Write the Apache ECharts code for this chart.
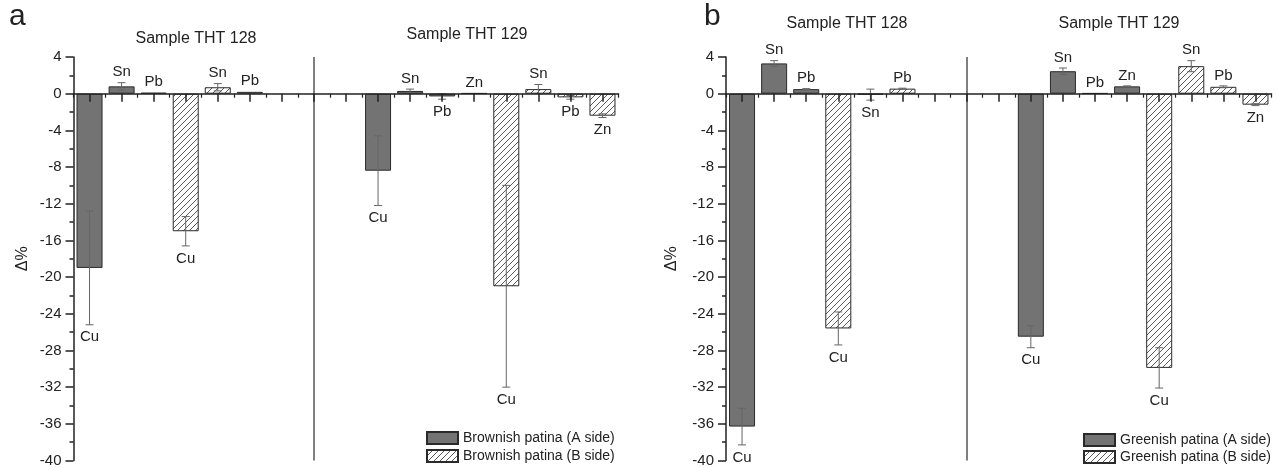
<!DOCTYPE html>
<html>
<head>
<meta charset="utf-8">
<script src="https://cdn.jsdelivr.net/npm/echarts@6/dist/echarts.min.js"></script>
<style>html,body{margin:0;padding:0;background:#fff}#c{width:1278px;height:468px}</style>
</head>
<body>
<div id="c"></div>
<script>
// ---------- DATA ----------
const elements128 = ['Cu', 'Sn', 'Pb'];
const elements129 = ['Cu', 'Sn', 'Pb', 'Zn'];
const sampleTitles = ['Sample THT 128', 'Sample THT 129'];
const yTicks = { min: -40, max: 4, step: 4 };

// Panel a – brownish patina
const brownSeriesNames = ['Brownish patina (A side)', 'Brownish patina (B side)'];
const brownA128 = [-19.0, 0.8, 0.1];
const brownA128Err = [6.2, 0.4, 0.0];
const brownB128 = [-15.0, 0.7, 0.2];
const brownB128Err = [1.6, 0.4, 0.0];
const brownA129 = [-8.4, 0.3, -0.3, 0.05];
const brownA129Err = [3.8, 0.2, 0.3, 0.0];
const brownB129 = [-21.0, 0.5, -0.4, -2.4];
const brownB129Err = [11.0, 0.5, 0.2, 0.2];

// Panel b – greenish patina
const greenSeriesNames = ['Greenish patina (A side)', 'Greenish patina (B side)'];
const greenA128 = [-36.3, 3.3, 0.5];
const greenA128Err = [2.0, 0.3, 0.05];
const greenB128 = [-25.6, -0.1, 0.55];
const greenB128Err = [1.8, 0.6, 0.05];
const greenA129 = [-26.5, 2.45, 0.05, 0.8];
const greenA129Err = [1.2, 0.35, 0.0, 0.05];
const greenB129 = [-29.9, 3.0, 0.75, -1.2];
const greenB129Err = [2.2, 0.6, 0.1, 0.1];

// ---------- BUILD ----------
const FONT = '"Liberation Sans", Arial, sans-serif';
const INK = '#222';

function hatchCanvas() {
  const c = document.createElement('canvas');
  c.width = 6; c.height = 6;
  const g = c.getContext('2d');
  g.fillStyle = '#fff'; g.fillRect(0, 0, 6, 6);
  g.strokeStyle = '#4a4a4a'; g.lineWidth = 0.9;
  g.beginPath();
  g.moveTo(0, 6); g.lineTo(6, 0);
  g.moveTo(-1, 1); g.lineTo(1, -1);
  g.moveTo(5, 7); g.lineTo(7, 5);
  g.stroke();
  return c;
}
const hatchFill = { image: hatchCanvas(), repeat: 'repeat' };

// slot layout: 128 A, 128 B, gap, separator, gap, 129 A, 129 B
const n128 = elements128.length, n129 = elements129.length;
const start128A = 0, start128B = n128;
const sepSlot = 2 * n128 + 1;
const start129A = sepSlot + 2, start129B = start129A + n129;
const nSlots = start129B + n129;
const slotNames = Array.from({ length: nSlots }, (_, i) => 's' + i);

function panel(g, names, A128, A128e, B128, B128e, A129, A129e, B129, B129e) {
  const barA = new Array(nSlots).fill('-');
  const barB = new Array(nSlots).fill('-');
  const errData = [];
  const labels = [];
  function put(arr, start, vals, errs, els) {
    vals.forEach((v, i) => {
      arr[start + i] = v;
      errData.push([start + i, v, errs[i]]);
      labels.push(els[i]);
    });
  }
  put(barA, start128A, A128, A128e, elements128);
  put(barB, start128B, B128, B128e, elements128);
  put(barA, start129A, A129, A129e, elements129);
  put(barB, start129B, B129, B129e, elements129);

  const xi = g * 2, yi = g;
  return [
    {
      type: 'bar', name: names[0], xAxisIndex: xi, yAxisIndex: yi, data: barA,
      barWidth: 26, barGap: '-100%',
      itemStyle: { color: '#737373', borderColor: '#2a2a2a', borderWidth: 1 },
      markLine: {
        silent: true, symbol: 'none', label: { show: false },
        lineStyle: { color: '#555', width: 1.5, type: 'solid' },
        data: [{ xAxis: sepSlot }], animation: false
      }
    },
    {
      type: 'bar', name: names[1], xAxisIndex: xi, yAxisIndex: yi, data: barB,
      barWidth: 26, barGap: '-100%',
      itemStyle: { color: hatchFill, borderColor: '#2a2a2a', borderWidth: 1 }
    },
    {
      type: 'custom', xAxisIndex: xi, yAxisIndex: yi, data: errData, z: 4, silent: true,
      renderItem: function (params, api) {
        const x = api.value(0), v = api.value(1), e = api.value(2);
        const cx = api.coord([x, v])[0];
        const top = api.coord([x, v + e])[1];
        const bot = api.coord([x, v - e])[1];
        const ch = [];
        const st = { stroke: '#666', lineWidth: 1 };
        if (e > 0) {
          ch.push({ type: 'line', shape: { x1: cx, y1: top, x2: cx, y2: bot }, style: st });
          ch.push({ type: 'line', shape: { x1: cx - 4, y1: top, x2: cx + 4, y2: top }, style: st });
          ch.push({ type: 'line', shape: { x1: cx - 4, y1: bot, x2: cx + 4, y2: bot }, style: st });
        }
        const pos = v >= 0;
        ch.push({
          type: 'text',
          style: {
            text: labels[params.dataIndex], x: cx, y: pos ? top - 3 : bot + 5,
            align: 'center', verticalAlign: pos ? 'bottom' : 'top',
            font: '15px ' + FONT, fill: INK
          }
        });
        return { type: 'group', children: ch };
      }
    }
  ];
}

const grids = [
  { left: 73.5, top: 57, width: 545, height: 404.5 },
  { left: 726, top: 57, width: 545.5, height: 404.5 }
];

const xAxes = [], yAxes = [];
[0, 1].forEach(g => {
  const common = {
    type: 'category', gridIndex: g, data: slotNames, z: 5, position: 'bottom',
    axisLabel: { show: false }, splitLine: { show: false }
  };
  xAxes.push(Object.assign({}, common, {
    axisLine: { show: true, onZero: true, onZeroAxisIndex: g, lineStyle: { color: INK, width: 1.5 } },
    axisTick: { show: true, alignWithLabel: true, length: 8, lineStyle: { color: INK, width: 1.5 } }
  }));
  xAxes.push(Object.assign({}, common, {
    axisLine: { show: false, onZero: true, onZeroAxisIndex: g },
    axisTick: { show: true, alignWithLabel: false, length: 4, lineStyle: { color: INK, width: 1.2 } }
  }));
  yAxes.push({
    type: 'value', gridIndex: g, min: yTicks.min, max: yTicks.max, interval: yTicks.step,
    name: 'Δ%', nameLocation: 'middle', nameGap: g === 0 ? 43 : 46, nameRotate: 90,
    nameTextStyle: { fontSize: 16, color: INK, fontFamily: FONT },
    axisLine: { show: true, lineStyle: { color: INK, width: 1.5 } },
    axisTick: { show: true, length: 8, lineStyle: { color: INK, width: 1.5 } },
    minorTick: { show: true, splitNumber: 2, length: 4, lineStyle: { color: INK, width: 1.5 } },
    axisLabel: { fontSize: 15, color: INK, fontFamily: FONT, margin: 12 },
    splitLine: { show: false }
  });
});

const series = [].concat(
  panel(0, brownSeriesNames, brownA128, brownA128Err, brownB128, brownB128Err, brownA129, brownA129Err, brownB129, brownB129Err),
  panel(1, greenSeriesNames, greenA128, greenA128Err, greenB128, greenB128Err, greenA129, greenA129Err, greenB129, greenB129Err)
);

function legendItem(name, left, top) {
  return {
    left: left, top: top, orient: 'vertical', data: [name],
    itemWidth: 31, itemHeight: 12, selectedMode: false, icon: 'rect',
    textStyle: { fontSize: 14, color: INK, fontFamily: FONT, lineHeight: 14 }
  };
}

const txt = (x, y, s, size, align) => ({
  type: 'text', x: x, y: y, silent: true,
  style: { text: s, align: align || 'center', verticalAlign: 'middle', font: size + 'px ' + FONT, fill: INK }
});

const option = {
  animation: false,
  backgroundColor: '#fff',
  grid: grids,
  xAxis: xAxes,
  yAxis: yAxes,
  legend: [
    legendItem(brownSeriesNames[0], 421, 426),
    legendItem(brownSeriesNames[1], 421, 444),
    legendItem(greenSeriesNames[0], 1078, 428),
    legendItem(greenSeriesNames[1], 1078, 445)
  ],
  graphic: [
    txt(9, 17, 'a', 30, 'left'),
    txt(704, 17, 'b', 30, 'left'),
    txt(196, 39, sampleTitles[0], 16),
    txt(467, 35, sampleTitles[1], 16),
    txt(847, 24, sampleTitles[0], 16),
    txt(1119, 24, sampleTitles[1], 16)
  ],
  series: series
};

const chart = echarts.init(document.getElementById('c'), null, { renderer: 'canvas' });
chart.setOption(option);
</script>
</body>
</html>
